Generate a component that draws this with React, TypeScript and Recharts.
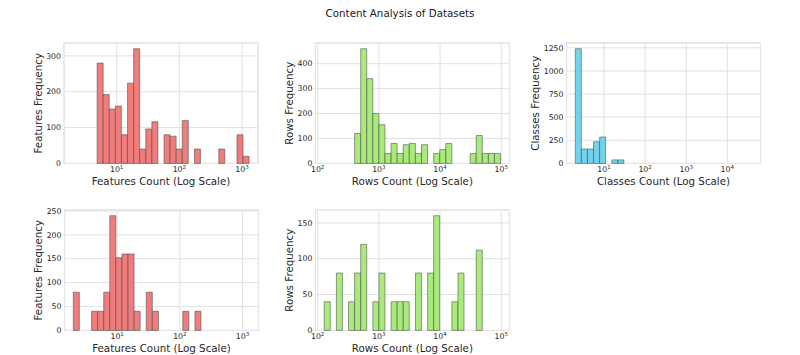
import { BarChart, Bar, XAxis, YAxis, CartesianGrid, ReferenceArea } from 'recharts';

// Histograms on log-spaced bins (29 bins between the min and max of each column)
const NBINS = 29;
const featureRange = [2, 1300];
const rowRange = [128, 97500];
const classRange = [2, 39200];

const trainFeatureCounts = [0, 0, 0, 0, 280, 192, 152, 160, 80, 224, 320, 40, 96, 116, 0, 80, 76, 40, 120, 0, 40, 0, 0, 0, 40, 0, 0, 80, 20];
const trainRowCounts = [0, 0, 0, 0, 0, 120, 460, 340, 200, 155, 40, 80, 40, 75, 80, 40, 75, 0, 40, 55, 80, 0, 0, 0, 40, 112, 40, 40, 40];
const trainClassCounts = [1240, 155, 155, 235, 285, 0, 38, 38, 0, 0, 0, 0, 0, 0, 0, 0, 0, 0, 0, 0, 0, 0, 0, 0, 0, 0, 0, 0, 0];
const testFeatureCounts = [80, 0, 0, 40, 40, 80, 240, 152, 160, 160, 40, 0, 80, 40, 0, 0, 0, 0, 40, 0, 40, 0, 0, 0, 0, 0, 0, 0, 0];
const testRowCounts = [40, 0, 80, 0, 40, 80, 120, 0, 40, 80, 0, 40, 40, 40, 0, 80, 0, 80, 160, 0, 0, 40, 80, 0, 0, 112, 0, 0, 0];

const featureTicks = [10, 100, 1000];
const rowTicks = [100, 1000, 10000, 100000];
const classTicks = [10, 100, 1000, 10000];

const TEXT = '#262626';
const GRID = '#e0e0e0';
const FRAME = '#e6e6e6';
const EDGE = '#4a4a4a';
const FONT = '"DejaVu Sans", sans-serif';

const PLOT_W = 194;
const PLOT_H = 120.4;
const PAD = 5;
const SIDE = 8; // room left of the y label centre
const XAXIS_H = 22;

// bin centres (geometric) for log-spaced edges
function binData(counts: number[], range: number[]) {
  const a = Math.log10(range[0]);
  const step = (Math.log10(range[1]) - a) / NBINS;
  return counts.map((n, i) => ({ x: Math.pow(10, a + (i + 0.5) * step), n }));
}

// matplotlib-style 5% margins in log space
function logDomain(range: number[]): [number, number] {
  const a = Math.log10(range[0]);
  const b = Math.log10(range[1]);
  const m = (b - a) * 0.05;
  return [Math.pow(10, a - m), Math.pow(10, b + m)];
}

function PowTick(props: any) {
  const { x, y, payload } = props;
  const exp = Math.round(Math.log10(payload.value));
  return (
    <text x={x} y={y + 9} textAnchor="middle" fontSize={7.8} fill={TEXT}>
      10
      <tspan dy={-3.5} fontSize={5.5}>
        {exp}
      </tspan>
    </text>
  );
}

interface PanelProps {
  plotLeft: number;
  plotTop: number;
  labelX: number;
  counts: number[];
  range: number[];
  xTicks: number[];
  yTicks: number[];
  yMax: number;
  fill: string;
  xLabel: string;
  yLabel: string;
}

function Panel({ plotLeft, plotTop, labelX, counts, range, xTicks, yTicks, yMax, fill, xLabel, yLabel }: PanelProps) {
  const data = binData(counts, range);
  const [lo, hi] = logDomain(range);
  const yw = plotLeft - labelX;
  return (
    <div style={{ position: 'absolute', left: labelX - SIDE, top: plotTop - PAD }}>
      <BarChart
        width={SIDE + yw + PLOT_W + PAD}
        height={PAD + PLOT_H + XAXIS_H + PAD}
        data={data}
        margin={{ top: PAD, right: PAD, left: SIDE, bottom: PAD }}
        barCategoryGap={0}
        barGap={0}
      >
        <CartesianGrid stroke={GRID} strokeWidth={1} />
        <XAxis
          dataKey="x"
          type="number"
          scale="log"
          domain={[lo, hi]}
          allowDataOverflow
          ticks={xTicks}
          interval={0}
          tick={<PowTick />}
          tickLine={false}
          tickSize={0}
          tickMargin={0}
          axisLine={false}
          height={XAXIS_H}
          label={{ value: xLabel, position: 'insideBottom', offset: 0, style: { fontSize: 10.3, fill: TEXT } }}
        />
        <YAxis
          type="number"
          domain={[0, yMax]}
          ticks={yTicks}
          interval={0}
          width={yw}
          tick={{ fontSize: 7.8, fill: TEXT }}
          tickLine={false}
          tickSize={0}
          tickMargin={3}
          axisLine={false}
          label={{
            value: yLabel,
            angle: -90,
            position: 'insideLeft',
            offset: 0,
            style: { textAnchor: 'middle', fontSize: 10.3, fill: TEXT },
          }}
        />
        <Bar dataKey="n" fill={fill} stroke={EDGE} strokeOpacity={0.7} strokeWidth={0.8} isAnimationActive={false} />
        <ReferenceArea x1={lo} x2={hi} y1={0} y2={yMax} fill="none" stroke={FRAME} strokeWidth={1.3} />
      </BarChart>
    </div>
  );
}

export default function App() {
  const RED = '#f07c7c';
  const GREEN = '#a9eb7a';
  const BLUE = '#72d4ec';
  return (
    <div
      style={{
        position: 'absolute',
        left: 0,
        top: 0,
        width: 800,
        height: 355,
        background: '#fff',
        fontFamily: FONT,
      }}
    >
      <svg width={800} height={30} style={{ position: 'absolute', left: 0, top: 0 }}>
        <text x={400} y={16.8} textAnchor="middle" fontSize={10.3} fill="#1a1a1a" fontFamily={FONT}>
          Content Analysis of Datasets
        </text>
      </svg>

      <Panel plotLeft={64} plotTop={42.7} labelX={38} counts={trainFeatureCounts} range={featureRange}
        xTicks={featureTicks} yTicks={[0, 100, 200, 300]} yMax={336} fill={RED}
        xLabel="Features Count (Log Scale)" yLabel="Features Frequency" />
      <Panel plotLeft={315.2} plotTop={42.7} labelX={288.8} counts={trainRowCounts} range={rowRange}
        xTicks={rowTicks} yTicks={[0, 100, 200, 300, 400]} yMax={483} fill={GREEN}
        xLabel="Rows Count (Log Scale)" yLabel="Rows Frequency" />
      <Panel plotLeft={566.5} plotTop={42.7} labelX={535} counts={trainClassCounts} range={classRange}
        xTicks={classTicks} yTicks={[0, 250, 500, 750, 1000, 1250]} yMax={1302} fill={BLUE}
        xLabel="Classes Count (Log Scale)" yLabel="Classes Frequency" />
      <Panel plotLeft={64} plotTop={209.9} labelX={37.5} counts={testFeatureCounts} range={featureRange}
        xTicks={featureTicks} yTicks={[0, 50, 100, 150, 200, 250]} yMax={252} fill={RED}
        xLabel="Features Count (Log Scale)" yLabel="Features Frequency" />
      <Panel plotLeft={315.2} plotTop={209.9} labelX={288.8} counts={testRowCounts} range={rowRange}
        xTicks={rowTicks} yTicks={[0, 50, 100, 150]} yMax={168} fill={GREEN}
        xLabel="Rows Count (Log Scale)" yLabel="Rows Frequency" />
    </div>
  );
}
